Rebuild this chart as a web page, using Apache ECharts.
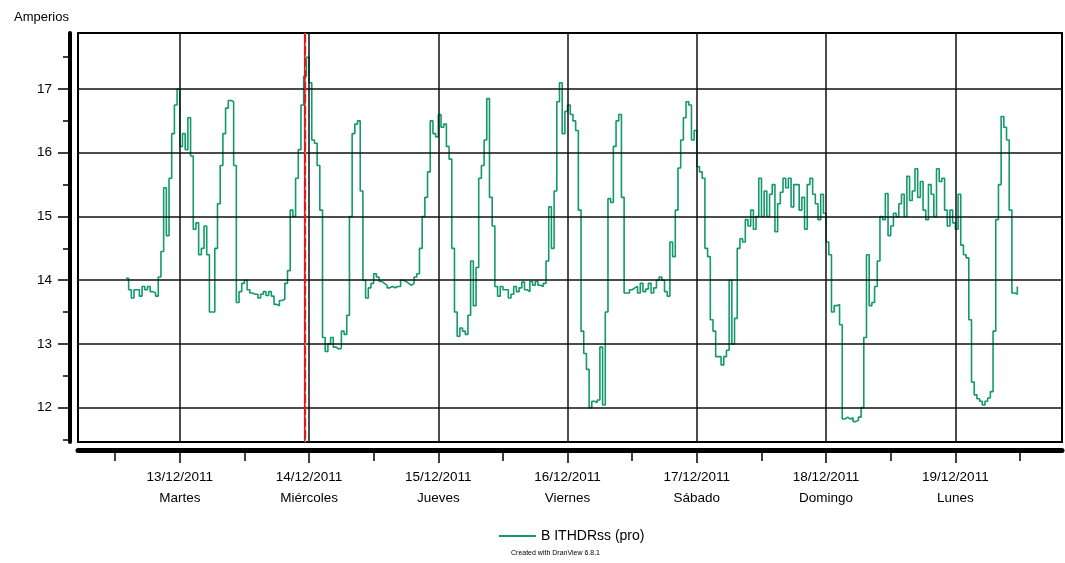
<!DOCTYPE html>
<html>
<head>
<meta charset="utf-8">
<script src="https://cdn.jsdelivr.net/npm/echarts@6/dist/echarts.min.js"></script>
<style>html,body{margin:0;padding:0;background:#fff}#c{width:1065px;height:563px}</style>
</head>
<body>
<div id="c"></div>
<script>
// Hours are counted from 13/12/2011 00:00; one sample every 30 minutes starting 12/12/2011 14:00
const startHour = -10;
const stepHours = 0.5;
const ampValues = [
 14.03,13.85,13.72,13.85,13.85,13.75,13.9,13.85,13.9,13.82,13.8,13.75,14.05,14.45,15.45,14.7,15.6,16.3,16.75,17.0,
 16.1,16.3,16.05,16.55,15.95,14.8,14.9,14.4,14.5,14.85,14.4,13.5,13.5,14.5,15.2,15.8,16.3,16.7,16.82,16.8,
 15.8,13.65,13.82,13.95,14.0,13.85,13.8,13.78,13.78,13.72,13.78,13.82,13.76,13.82,13.75,13.62,
 13.6,13.68,13.7,13.95,14.15,15.1,15.0,15.6,16.05,16.75,17.2,17.5,17.1,16.2,16.15,15.8,15.1,13.1,12.88,13.0,
 13.1,12.95,12.92,12.93,13.2,13.15,13.45,15.0,16.3,16.45,16.5,15.4,14.0,13.72,13.88,13.95,14.1,14.05,13.98,13.95,
 13.92,13.88,13.9,13.88,13.9,13.9,14.0,13.98,13.95,13.92,13.95,14.05,14.1,14.5,15.0,15.3,
 15.7,16.5,16.3,16.25,16.6,16.4,16.45,16.1,15.9,14.5,13.5,13.12,13.25,13.2,13.15,13.45,14.3,13.6,14.2,15.6,
 15.8,16.2,16.85,15.3,14.85,13.9,13.75,13.9,13.85,13.85,13.72,13.78,13.9,13.82,13.88,13.97,13.85,13.82,13.98,13.92,
 13.98,13.92,13.9,13.95,14.3,15.15,14.5,15.4,16.8,17.1,16.3,16.65,16.75,16.6,16.5,
 16.35,15.1,13.2,12.85,12.6,12.0,12.1,12.08,12.12,12.95,12.04,13.5,15.28,15.22,16.1,16.5,16.6,15.3,13.8,13.8,
 13.85,13.88,13.9,13.8,13.95,13.82,13.86,13.95,13.8,13.88,14.0,14.05,14.0,13.82,13.75,14.6,14.37,15.1,15.76,16.2,
 16.55,16.8,16.75,16.2,16.35,15.78,15.7,15.6,14.5,14.37,13.38,13.2,12.8,12.8,12.67,12.8,
 12.9,14.0,13.0,13.4,14.5,14.65,14.6,14.95,14.85,15.1,14.8,15.0,15.6,15.0,15.4,15.0,15.35,15.5,14.76,15.2,
 15.38,15.6,15.45,15.6,15.15,15.5,15.5,15.1,15.3,14.8,15.5,15.6,15.35,15.2,14.95,15.35,15.05,14.6,14.4,13.5,
 13.6,13.62,13.3,11.82,11.85,11.82,11.84,11.78,11.8,11.85,12.0,13.1,14.4,13.6,13.65,
 13.9,14.3,15.0,14.95,15.36,14.7,14.85,15.05,15.0,15.2,15.35,15.0,15.63,15.25,15.4,15.75,15.3,15.55,15.1,14.95,
 15.5,15.35,15.0,15.75,15.55,15.6,15.1,14.85,15.1,14.9,14.8,15.35,14.55,14.4,14.35,13.38,12.4,12.2,12.14,12.1,
 12.04,12.1,12.15,12.25,13.2,14.95,15.5,16.57,16.4,16.2,15.1,13.8,13.78,13.9
];
const dayTicks = [0, 24, 48, 72, 96, 120, 144];
const halfDayTicks = [-12, 12, 36, 60, 84, 108, 132, 156];
const dateLabels = ['13/12/2011','14/12/2011','15/12/2011','16/12/2011','17/12/2011','18/12/2011','19/12/2011'];
const dayNames = ['Martes','Miércoles','Jueves','Viernes','Sábado','Domingo','Lunes'];
const yMajor = [12, 13, 14, 15, 16, 17];
const yMinor = [11.5, 12.5, 13.5, 14.5, 15.5, 16.5, 17.5];
const cursorHour = 23.22;
const seriesName = 'B ITHDRss (pro)';

const seriesData = ampValues.map((v, i) => [startHour + i * stepHours, v]);
const FONT = '"Liberation Sans", Arial, sans-serif';
const xMin = -18.9, xMax = 163.8, yMin = 11.46, yMax = 17.88;

const chart = echarts.init(document.getElementById('c'), null, {renderer: 'canvas'});
const gridLine = {color: '#111', width: 1.5, type: 'solid'};
chart.setOption({
  animation: false,
  backgroundColor: '#fff',
  textStyle: {fontFamily: FONT},
  title: {text: 'Amperios', left: 9, top: 6, textStyle: {fontSize: 13, fontWeight: 'normal', color: '#000', fontFamily: FONT}},
  legend: {
    left: 494, top: 524, itemWidth: 37, itemHeight: 2, itemGap: 10,
    icon: 'rect',
    textStyle: {fontSize: 14, color: '#000', fontFamily: FONT, padding: [0,0,0,0]},
    data: [seriesName]
  },
  graphic: [{
    type: 'text', left: 511, top: 550,
    style: {text: 'Created with DranView 6.8.1', fontSize: 7, fill: '#000', fontFamily: FONT}
  }],
  grid: {left: 78, right: 3, top: 33, bottom: 121, show: true, borderColor: '#000', borderWidth: 2, backgroundColor: 'transparent'},
  xAxis: [{
    type: 'value', min: xMin, max: xMax, position: 'bottom', offset: 8,
    axisLine: {show: true, onZero: false, lineStyle: {color: '#000', width: 5, cap: 'round'}},
    axisTick: {show: true, customValues: dayTicks, length: 13, lineStyle: {color: '#000', width: 1.5}},
    axisLabel: {
      show: true, customValues: dayTicks, margin: 17, fontSize: 13.5, lineHeight: 21, color: '#000', fontFamily: FONT,
      formatter: v => { const k = Math.round(v / 24); return dateLabels[k] + '\n' + dayNames[k]; }
    },
    splitLine: {show: false}
  }, {
    type: 'value', min: xMin, max: xMax, position: 'bottom', offset: 8, gridIndex: 0,
    axisLine: {show: false, onZero: false},
    axisTick: {show: true, customValues: halfDayTicks, length: 11, lineStyle: {color: '#000', width: 1.5}},
    axisLabel: {show: false},
    splitLine: {show: false}
  }],
  yAxis: [{
    type: 'value', min: yMin, max: yMax, position: 'left', offset: 8,
    axisLine: {show: true, onZero: false, lineStyle: {color: '#000', width: 4, cap: 'round'}},
    axisTick: {show: true, customValues: yMajor, length: 12, lineStyle: {color: '#000', width: 1.5}},
    axisLabel: {show: true, customValues: yMajor, margin: 18, fontSize: 13.5, color: '#000', fontFamily: FONT},
    splitLine: {show: false}
  }, {
    type: 'value', min: yMin, max: yMax, position: 'left', offset: 8,
    axisLine: {show: false, onZero: false},
    axisTick: {show: true, customValues: yMinor, length: 7, lineStyle: {color: '#000', width: 1.5}},
    axisLabel: {show: false},
    splitLine: {show: false}
  }],
  series: [{
    name: 'grid', type: 'line', data: [], silent: true, z: 1,
    markLine: {
      silent: true, symbol: ['none','none'], label: {show: false}, animation: false,
      lineStyle: gridLine,
      data: yMajor.map(v => ({yAxis: v})).concat(dayTicks.map(v => ({xAxis: v})))
    }
  }, {
    name: seriesName, type: 'line', step: 'end', data: seriesData, showSymbol: false, z: 3,
    color: '#13996b',
    lineStyle: {color: '#13996b', width: 1.6},
    markLine: {
      silent: true, symbol: ['none','none'], label: {show: false}, animation: false,
      data: [
        {xAxis: cursorHour, lineStyle: {color: '#e8141a', width: 2.2, type: 'solid'}},
        {xAxis: cursorHour, lineStyle: {color: '#9a9a9a', width: 1, type: [3, 9]}}
      ]
    }
  }]
});
</script>
</body>
</html>
